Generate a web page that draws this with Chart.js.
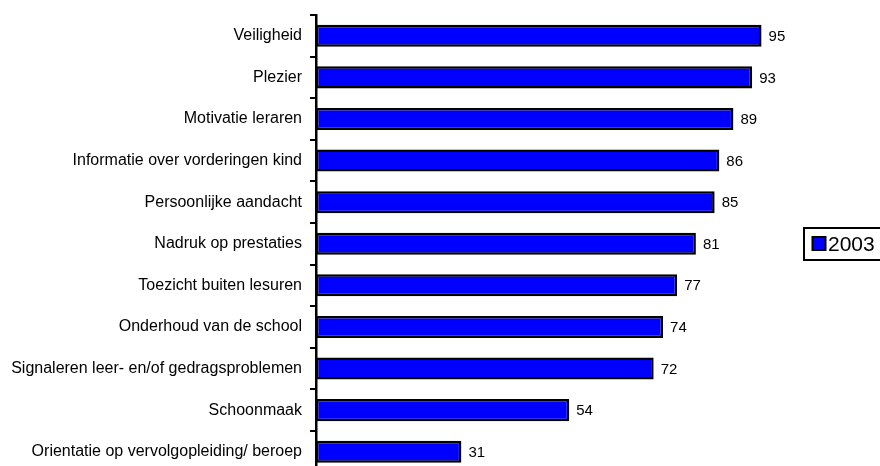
<!DOCTYPE html>
<html>
<head>
<meta charset="utf-8">
<script src="https://cdn.jsdelivr.net/npm/chart.js@4/dist/chart.umd.min.js"></script>
<style>
html,body{margin:0;padding:0;overflow:hidden;background:#fff;}
#c{display:block;}
</style>
</head>
<body>
<canvas id="c" width="880" height="480"></canvas>
<script>
const categories = [
  "Veiligheid",
  "Plezier",
  "Motivatie leraren",
  "Informatie over vorderingen kind",
  "Persoonlijke aandacht",
  "Nadruk op prestaties",
  "Toezicht buiten lesuren",
  "Onderhoud van de school",
  "Signaleren leer- en/of gedragsproblemen",
  "Schoonmaak",
  "Orientatie op vervolgopleiding/ beroep"
];
const values2003 = [95, 93, 89, 86, 85, 81, 77, 74, 72, 54, 31];
const seriesName = "2003";

const FONT = "Arial, 'Liberation Sans', sans-serif";

const valueLabels = {
  id: 'valueLabels',
  afterDatasetsDraw(chart) {
    const ctx = chart.ctx;
    const meta = chart.getDatasetMeta(0);
    ctx.save();
    ctx.font = "15px " + FONT;
    ctx.fillStyle = "#000";
    ctx.textAlign = "left";
    ctx.textBaseline = "middle";
    meta.data.forEach((bar, i) => {
      ctx.fillText(String(chart.data.datasets[0].data[i]), bar.x + 7, bar.y + 1);
    });
    ctx.restore();
  }
};

const boxLegend = {
  id: 'boxLegend',
  afterDraw(chart) {
    const ctx = chart.ctx;
    const ds = chart.data.datasets[0];
    ctx.save();
    const x = 804, y = 228, w = 90, h = 32;
    ctx.lineWidth = 2;
    ctx.strokeStyle = "#000";
    ctx.strokeRect(x, y, w, h);
    ctx.fillStyle = ds.backgroundColor;
    ctx.fillRect(x + 8.5, y + 9, 13, 13);
    ctx.lineWidth = 2;
    ctx.strokeRect(x + 8.5, y + 9, 13, 13);
    ctx.fillStyle = "#000";
    ctx.font = "21px " + FONT;
    ctx.textBaseline = "middle";
    ctx.textAlign = "left";
    ctx.fillText(ds.label, x + 24, y + 17);
    ctx.restore();
  }
};

new Chart(document.getElementById('c'), {
  type: 'bar',
  data: {
    labels: categories,
    datasets: [{
      label: seriesName,
      data: values2003,
      backgroundColor: "#0000FF",
      borderColor: "#000000",
      borderWidth: 2.5,
      borderSkipped: false,
      categoryPercentage: 1.0,
      barPercentage: 0.53
    }]
  },
  options: {
    indexAxis: 'y',
    responsive: false,
    maintainAspectRatio: false,
    animation: false,
    layout: { padding: { top: 15, bottom: 7.5, right: 95, left: 0 } },
    plugins: {
      legend: { display: false },
      tooltip: { enabled: false }
    },
    scales: {
      x: { display: false, min: 0, max: 100 },
      y: {
        afterFit(scale) {
          scale.width = 316;
          scale.paddingTop = 0;
          scale.paddingBottom = 0;
        },
        offset: true,
        grid: {
          offset: true,
          drawOnChartArea: false,
          drawTicks: true,
          tickLength: 6,
          color: "#000",
          lineWidth: 2
        },
        border: { display: true, color: "#000", width: 2.5 },
        ticks: {
          color: "#000",
          font: { family: FONT, size: 16 },
          padding: 8,
          autoSkip: false
        }
      }
    }
  },
  plugins: [valueLabels, boxLegend]
});
</script>
</body>
</html>
